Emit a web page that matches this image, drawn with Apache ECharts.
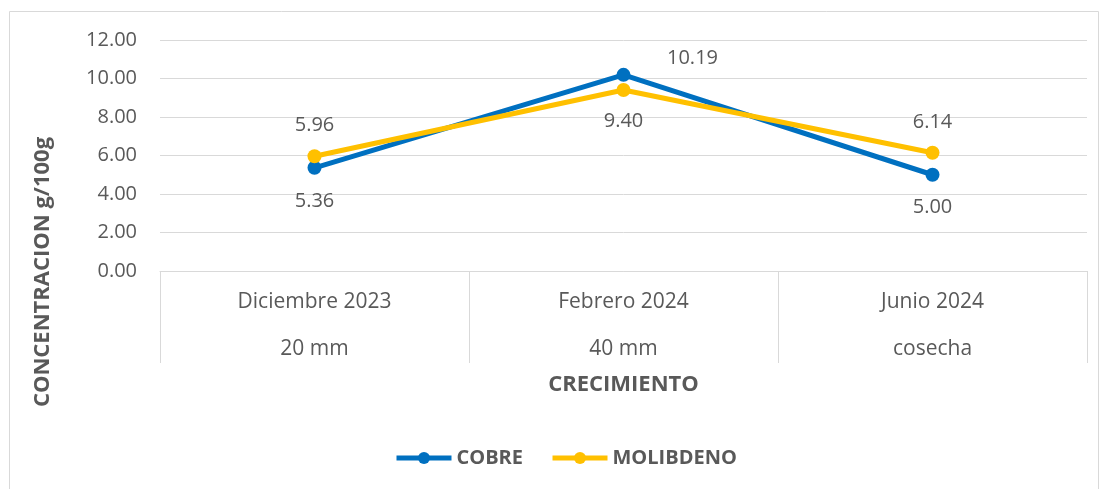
<!DOCTYPE html>
<html><head><meta charset="utf-8">
<script src="https://cdn.jsdelivr.net/npm/echarts@6/dist/echarts.min.js"></script>
<style>html,body{margin:0;padding:0;background:#fff}#c{width:1102px;height:489px}</style>
</head><body><div id="c"></div>
<script>
const categories = ['Diciembre 2023\n20 mm', 'Febrero 2024\n40 mm', 'Junio 2024\ncosecha'];
const cobre = [5.36, 10.19, 5.00];
const molibdeno = [5.96, 9.40, 6.14];
const yTicks = { min: 0, max: 12, interval: 2 };

const FONT = 'Open Sans';
const GREY = '#595959';
const LINE = '#d9d9d9';

const cobreLabelPos = ['bottom', 'top', 'bottom'];
const cobreLabelOffset = [[0, 0], [69, 0], [0, 0]];
const molLabelPos = ['top', 'bottom', 'top'];

const chart = echarts.init(document.getElementById('c'));
chart.setOption({
  animation: false,
  textStyle: { fontFamily: FONT },
  graphic: [
    { type: 'rect', shape: { x: 9.5, y: 11.5, width: 1089, height: 500 }, style: { fill: 'none', stroke: LINE, lineWidth: 1 }, silent: true },
    { type: 'text', x: 43, y: 272, rotation: Math.PI / 2,
      style: { text: 'CONCENTRACION g/100g', fontFamily: FONT, fontSize: 22, fontWeight: 'bold', fill: GREY, align: 'center', verticalAlign: 'middle' } }
  ],
  grid: { left: 160, right: 15, top: 40, bottom: 218 },
  legend: {
    bottom: 16, left: 389, itemWidth: 55, itemHeight: 15, itemGap: 27,
    lineStyle: { width: 5 },
    textStyle: { fontFamily: FONT, fontSize: 20, fontWeight: 'bold', color: GREY },
    data: ['COBRE', 'MOLIBDENO']
  },
  xAxis: {
    type: 'category', data: categories, boundaryGap: true,
    name: 'CRECIMIENTO', nameLocation: 'middle', nameGap: 101,
    nameTextStyle: { fontFamily: FONT, fontSize: 22, fontWeight: 'bold', color: GREY },
    axisLine: { lineStyle: { color: LINE, width: 1 } },
    axisTick: { show: true, interval: 0, length: 92, lineStyle: { color: LINE } },
    axisLabel: { interval: 0, margin: 8, fontFamily: FONT, fontSize: 21, color: GREY, lineHeight: 47 }
  },
  yAxis: {
    type: 'value', min: yTicks.min, max: yTicks.max, interval: yTicks.interval,
    axisLine: { show: false }, axisTick: { show: false },
    axisLabel: { margin: 23, fontFamily: FONT, fontSize: 20, color: GREY, formatter: v => v.toFixed(2) },
    splitLine: { lineStyle: { color: LINE, width: 1 } }
  },
  series: [
    { name: 'COBRE', type: 'line', color: '#0070C0',
      symbol: 'circle', symbolSize: 14, lineStyle: { width: 5 },
      data: cobre.map((v, i) => ({ value: v, label: { position: cobreLabelPos[i], offset: cobreLabelOffset[i], distance: i === 1 ? 0 : 16 } })),
      label: { show: true, fontFamily: FONT, fontSize: 20, color: GREY, formatter: p => p.value.toFixed(2) } },
    { name: 'MOLIBDENO', type: 'line', color: '#FFC000',
      symbol: 'circle', symbolSize: 14, lineStyle: { width: 5 },
      data: molibdeno.map((v, i) => ({ value: v, label: { position: molLabelPos[i], distance: 14 } })),
      label: { show: true, fontFamily: FONT, fontSize: 20, color: GREY, formatter: p => p.value.toFixed(2) } }
  ]
});
</script></body></html>
